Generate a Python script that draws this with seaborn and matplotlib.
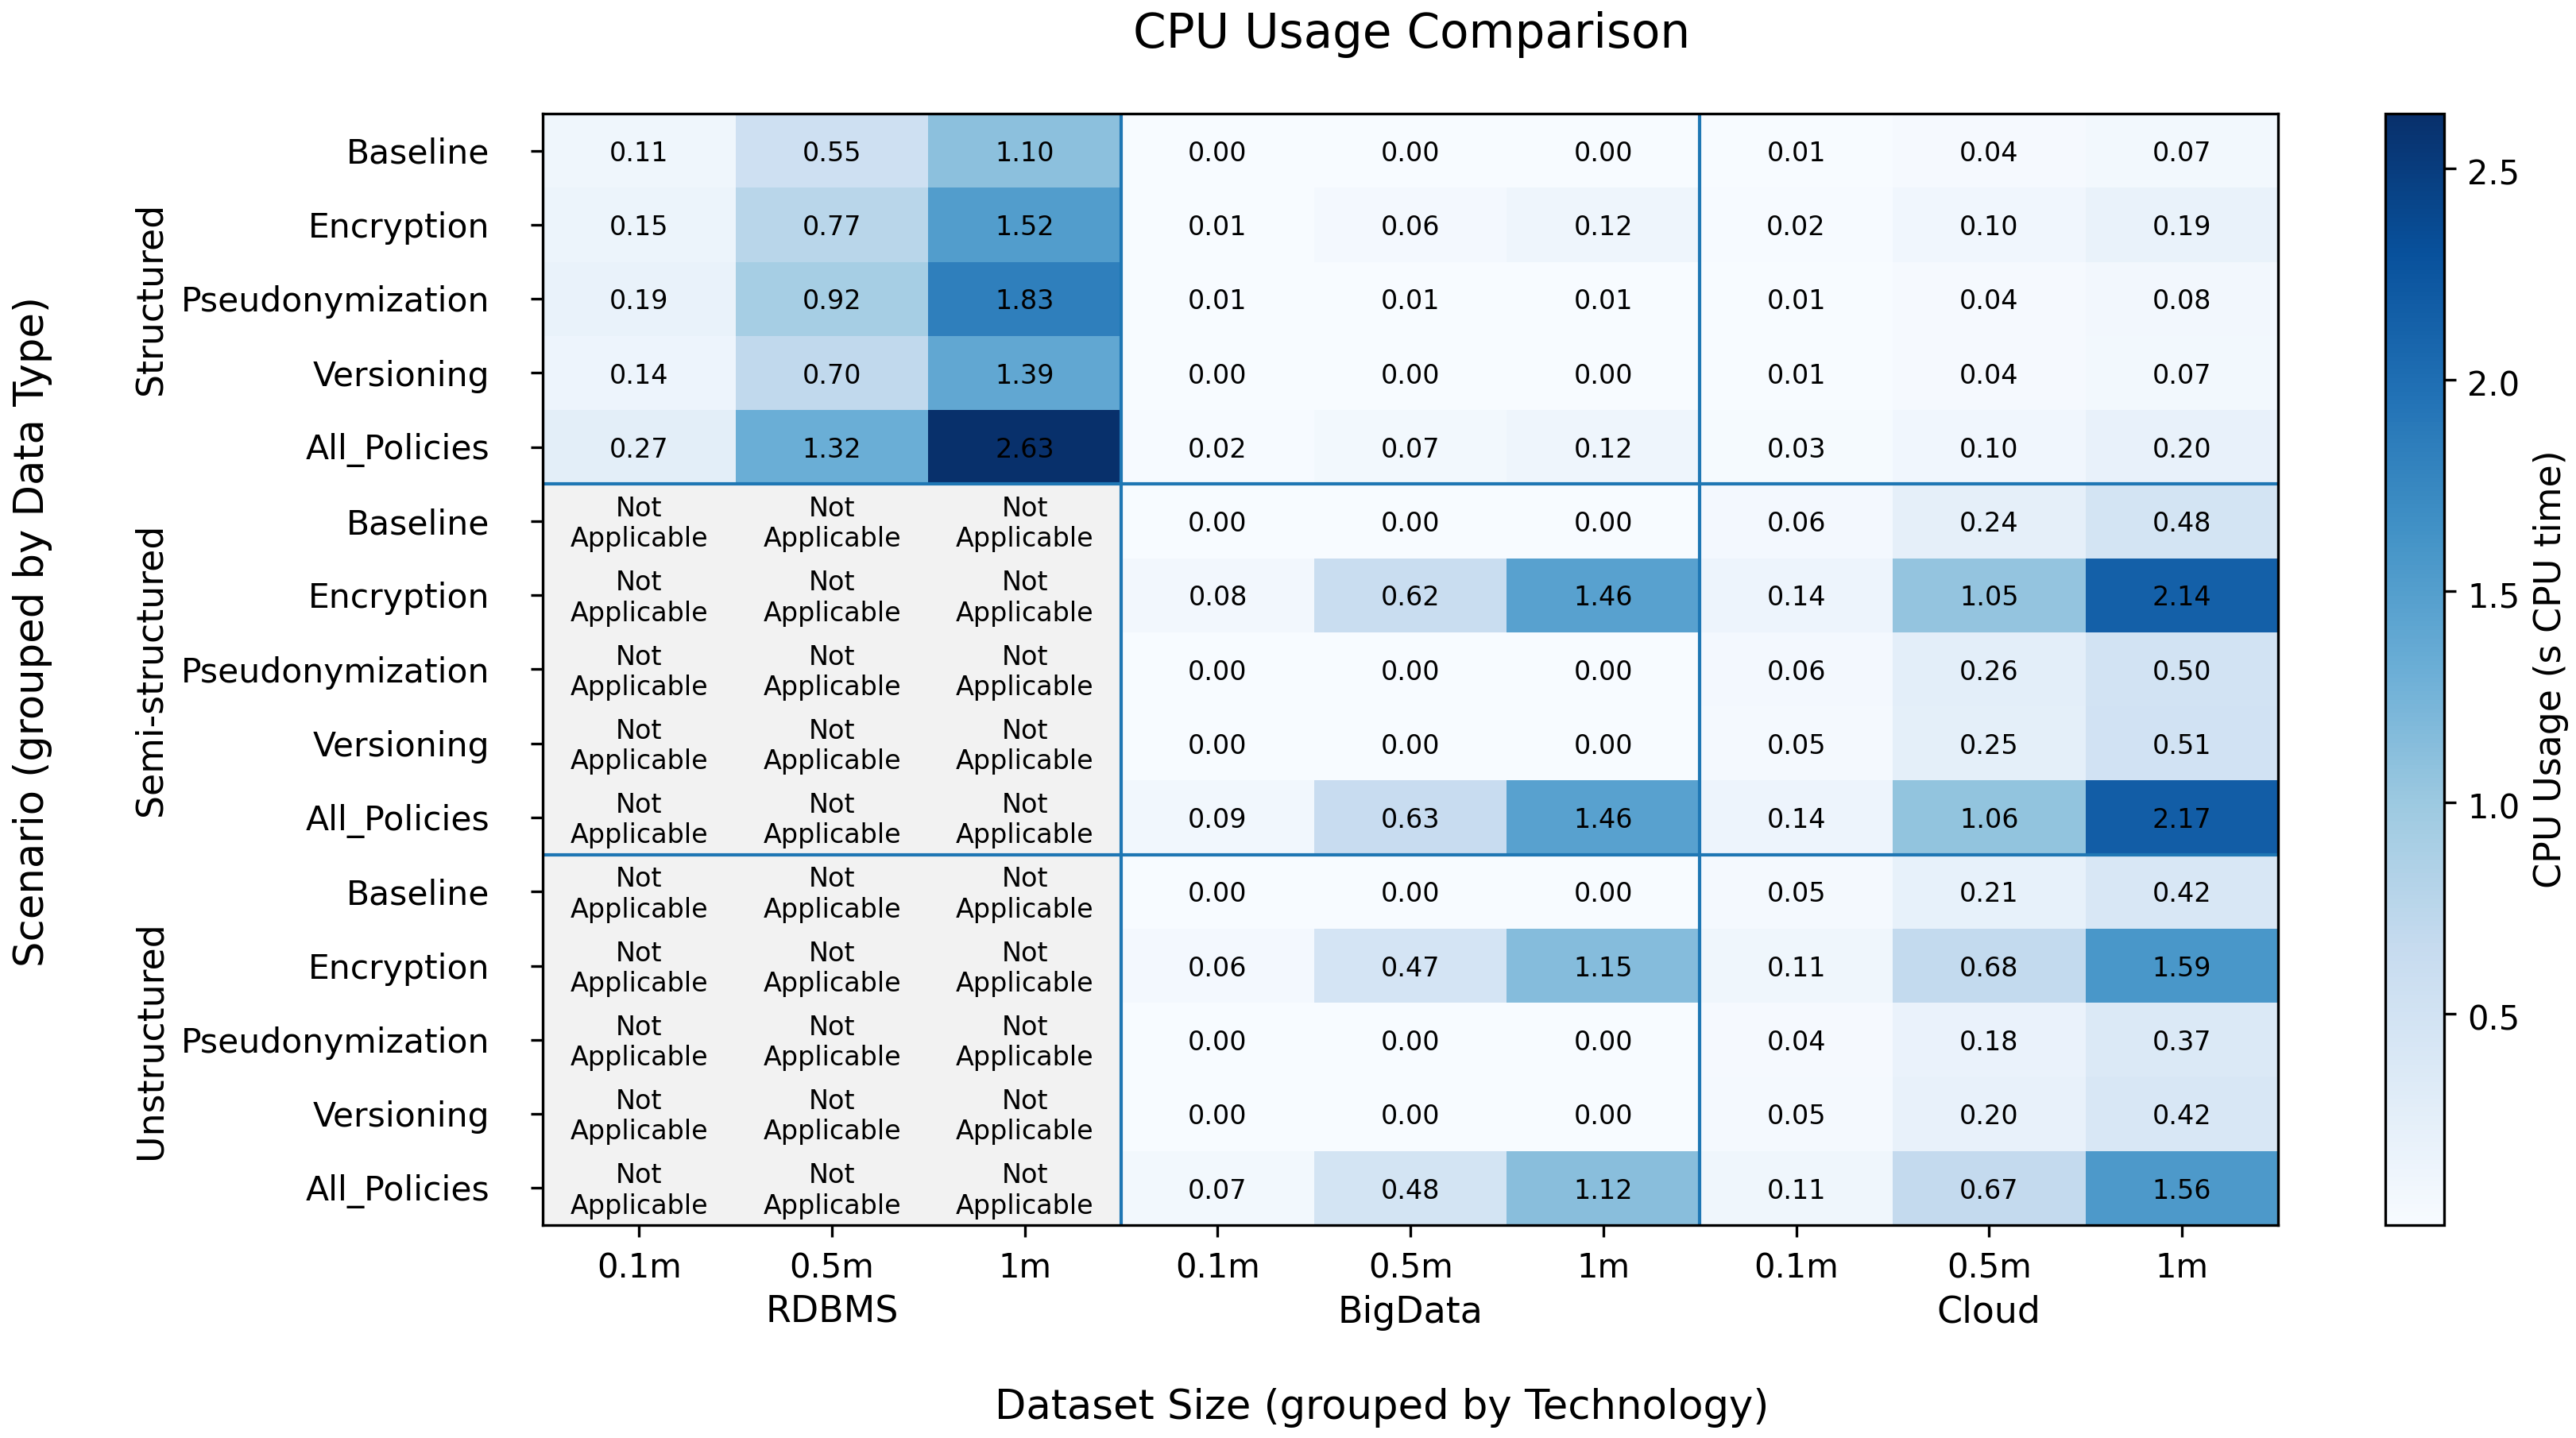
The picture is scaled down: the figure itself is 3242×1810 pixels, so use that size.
import numpy as np
import pandas as pd
import seaborn as sns
import matplotlib.pyplot as plt
import matplotlib.transforms as mtransforms

data_types = ['Structured', 'Semi-structured', 'Unstructured']
scenarios = ['Baseline', 'Encryption', 'Pseudonymization', 'Versioning', 'All_Policies']
technologies = ['RDBMS', 'BigData', 'Cloud']
sizes = ['0.1m', '0.5m', '1m']

nan = np.nan
# rows: scenario within data type, columns: size within technology
structured = [
    [0.11, 0.55, 1.10, 0.00, 0.00, 0.00, 0.01, 0.04, 0.07],
    [0.15, 0.77, 1.52, 0.01, 0.06, 0.12, 0.02, 0.10, 0.19],
    [0.19, 0.92, 1.83, 0.01, 0.01, 0.01, 0.01, 0.04, 0.08],
    [0.14, 0.70, 1.39, 0.00, 0.00, 0.00, 0.01, 0.04, 0.07],
    [0.27, 1.32, 2.63, 0.02, 0.07, 0.12, 0.03, 0.10, 0.20],
]
semi_structured = [
    [nan, nan, nan, 0.00, 0.00, 0.00, 0.06, 0.24, 0.48],
    [nan, nan, nan, 0.08, 0.62, 1.46, 0.14, 1.05, 2.14],
    [nan, nan, nan, 0.00, 0.00, 0.00, 0.06, 0.26, 0.50],
    [nan, nan, nan, 0.00, 0.00, 0.00, 0.05, 0.25, 0.51],
    [nan, nan, nan, 0.09, 0.63, 1.46, 0.14, 1.06, 2.17],
]
unstructured = [
    [nan, nan, nan, 0.00, 0.00, 0.00, 0.05, 0.21, 0.42],
    [nan, nan, nan, 0.06, 0.47, 1.15, 0.11, 0.68, 1.59],
    [nan, nan, nan, 0.00, 0.00, 0.00, 0.04, 0.18, 0.37],
    [nan, nan, nan, 0.00, 0.00, 0.00, 0.05, 0.20, 0.42],
    [nan, nan, nan, 0.07, 0.48, 1.12, 0.11, 0.67, 1.56],
]

rows = pd.MultiIndex.from_product([data_types, scenarios])
cols = pd.MultiIndex.from_product([technologies, sizes])
df = pd.DataFrame(structured + semi_structured + unstructured, index=rows, columns=cols)

plt.rcParams['font.family'] = 'DejaVu Sans'

fig = plt.figure(figsize=(3242 / 300, 1810 / 300), dpi=300)
ax = fig.add_axes([0.2107, 0.1481, 0.6737, 0.7729])
cax = fig.add_axes([0.926, 0.1481, 0.0228, 0.7729])

sns.heatmap(df, ax=ax, cbar_ax=cax, cmap='Blues', vmin=0, annot=True, fmt='.2f',
            annot_kws={'size': 8, 'color': 'black'},
            cbar_kws={'label': 'CPU Usage (s CPU time)'})
ax.set_facecolor('#f2f2f2')

# grey "Not Applicable" cells
for i in range(df.shape[0]):
    for j in range(df.shape[1]):
        if np.isnan(df.iat[i, j]):
            ax.text(j + 0.5, i + 0.5, 'Not\nApplicable', ha='center', va='center',
                    fontsize=8, color='black')

# nudge cell texts slightly down
for t in ax.texts:
    x, y = t.get_position()
    t.set_position((x, y + 0.04))

ax.set_xticks(np.arange(len(cols)) + 0.5)
ax.set_xticklabels([s for _, s in cols], rotation=0, fontsize=10)
ax.set_yticks(np.arange(len(rows)) + 0.5)
ax.set_yticklabels([s for _, s in rows], rotation=0, fontsize=10.2)
ax.tick_params(axis='y', pad=12.5)
ax.tick_params(axis='x', pad=4.5)
ax.set_xlabel('')
ax.set_ylabel('')

down = mtransforms.ScaledTranslation(0, -1.0 / 72, fig.dpi_scale_trans)
for lab in ax.get_yticklabels():
    lab.set_transform(lab.get_transform() + down)

for k in range(1, len(data_types)):
    ax.axhline(k * len(scenarios), color='#1f77b4', lw=1)
for k in range(1, len(technologies)):
    ax.axvline(k * len(sizes), color='#1f77b4', lw=1)

for sp in ax.spines.values():
    sp.set_visible(True)
    sp.set_linewidth(0.8)
    sp.set_color('black')

# group labels
for k, dt in enumerate(data_types):
    ax.text(-0.2257, 1 - (k + 0.5) / len(data_types), dt, transform=ax.transAxes,
            rotation=90, ha='center', va='center', fontsize=11)
for k, tech in enumerate(technologies):
    ax.text((k + 0.5) / len(technologies), -0.0787, tech, transform=ax.transAxes,
            ha='center', va='center', fontsize=11)

cbar = ax.collections[0].colorbar
cbar.set_ticks([0.5, 1.0, 1.5, 2.0, 2.5])
cbar.ax.tick_params(labelsize=10)
for lab in cbar.ax.get_yticklabels():
    lab.set_transform(lab.get_transform() + down)
cbar.set_label('CPU Usage (s CPU time)', fontsize=11)
cbar.outline.set_visible(True)
cbar.outline.set_linewidth(0.8)
cbar.outline.set_edgecolor('black')

fig.text(0.548, 0.9758, 'CPU Usage Comparison', ha='center', va='center', fontsize=14.3)
fig.text(0.5365, 0.0208, 'Dataset Size (grouped by Technology)', ha='center', va='center',
         fontsize=12.3)
fig.text(0.0128, 0.561, 'Scenario (grouped by Data Type)', ha='center', va='center',
         rotation=90, fontsize=12.3)

fig.savefig('out.png', dpi=300)
